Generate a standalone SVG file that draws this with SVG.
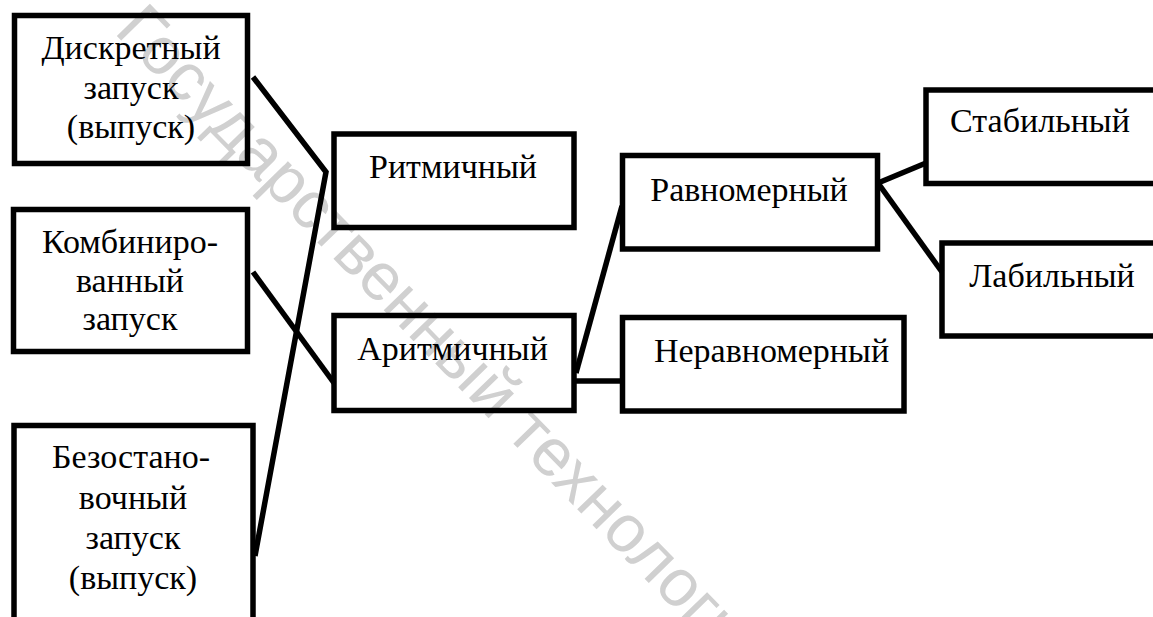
<svg xmlns="http://www.w3.org/2000/svg" width="1153" height="617" viewBox="0 0 1153 617">
<style>
.box{fill:none;stroke:#000;stroke-width:5.5}
.lbl{font-family:"Liberation Serif","Times New Roman",serif;font-size:34px;fill:#000;text-anchor:middle}
.con{fill:none;stroke:#000;stroke-width:5.5;stroke-linejoin:miter}
.wm{font-family:"Liberation Sans",Arial,sans-serif;font-size:67px;fill:#d0d0d0}
</style>
<rect width="1153" height="617" fill="#fff"/>
<g id="watermark">
<text class="wm" transform="translate(113,32) rotate(45.8)">Государственный технологический</text>
</g>
<g id="connectors">
<polyline class="con" points="253,77 326,172 255,556"/>
<line class="con" x1="253" y1="272" x2="334" y2="383"/>
<line class="con" x1="576" y1="373" x2="622" y2="206"/>
<line class="con" x1="574" y1="381" x2="622" y2="381"/>
<line class="con" x1="878" y1="183" x2="926" y2="163"/>
<line class="con" x1="878" y1="183" x2="942" y2="272"/>
</g>
<g id="n1">
<rect class="box" x="14.5" y="15.5" width="233" height="148"/>
<text class="lbl" x="131" y="59">Дискретный</text>
<text class="lbl" x="131" y="98.5">запуск</text>
<text class="lbl" x="131" y="138">(выпуск)</text>
</g>
<g id="n2">
<rect class="box" x="13.5" y="209.5" width="234" height="142"/>
<text class="lbl" x="130" y="253">Комбиниро-</text>
<text class="lbl" x="130" y="292">ванный</text>
<text class="lbl" x="130" y="330">запуск</text>
</g>
<g id="n3">
<rect class="box" x="14" y="425.5" width="239" height="230"/>
<text class="lbl" x="131" y="468">Безостано-</text>
<text class="lbl" x="133" y="509">вочный</text>
<text class="lbl" x="133" y="549">запуск</text>
<text class="lbl" x="133" y="589">(выпуск)</text>
</g>
<g id="n4">
<rect class="box" x="334" y="134" width="240" height="93.5"/>
<text class="lbl" x="453" y="178">Ритмичный</text>
</g>
<g id="n5">
<rect class="box" x="334" y="315.5" width="240" height="95"/>
<text class="lbl" x="452.5" y="360">Аритмичный</text>
</g>
<g id="n6">
<rect class="box" x="622.5" y="155.5" width="255" height="93.5"/>
<text class="lbl" x="749" y="200.5">Равномерный</text>
</g>
<g id="n7">
<rect class="box" x="622.5" y="317.5" width="281.5" height="93.5"/>
<text class="lbl" x="771.5" y="362">Неравномерный</text>
</g>
<g id="n8">
<rect class="box" x="926" y="90" width="300" height="93.5"/>
<text class="lbl" x="1040" y="132">Стабильный</text>
</g>
<g id="n9">
<rect class="box" x="942" y="243" width="300" height="93"/>
<text class="lbl" x="1052" y="287">Лабильный</text>
</g>
</svg>
